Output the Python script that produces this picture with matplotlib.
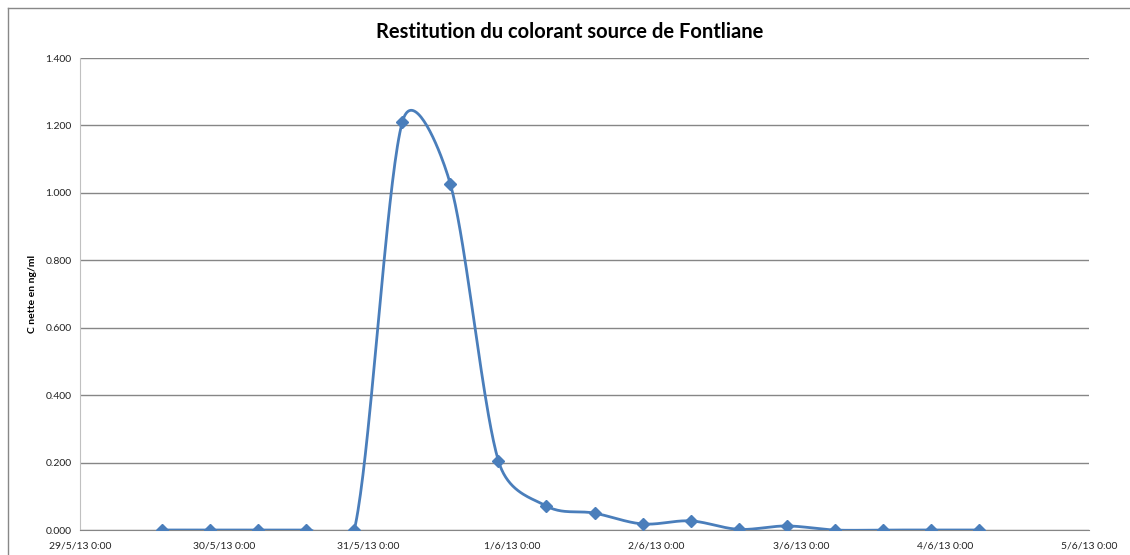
import datetime as dt
import matplotlib
matplotlib.use('Agg')
import matplotlib.pyplot as plt
import matplotlib.dates as mdates
import numpy as np

# sampling times: every 8 h from 29/5/13 13:40
t0 = dt.datetime(2013, 5, 29, 13, 40)
times = [t0 + dt.timedelta(hours=8 * i) for i in range(18)]
conc = [0.000, 0.000, 0.000, 0.000, 0.000, 1.210, 1.026, 0.205, 0.071,
        0.050, 0.018, 0.027, 0.002, 0.012, 0.000, 0.000, 0.000, 0.000]

title = 'Restitution du colorant source de Fontliane'
ylabel = 'C nette en ng/ml'
x_start = dt.datetime(2013, 5, 29)
x_end = dt.datetime(2013, 6, 5)
y_ticks = [0.0, 0.2, 0.4, 0.6, 0.8, 1.0, 1.2, 1.4]

plt.rcParams['font.family'] = ['Lato', 'DejaVu Sans']


def smooth(pts, n=40):
    # excel style smoothed line: bezier, control arms limited to half a segment
    p = np.vstack([pts[0], pts, pts[-1]])
    out = []
    t = np.linspace(0, 1, n)[:, None]
    for i in range(1, len(p) - 2):
        a, b, c, d = p[i - 1], p[i], p[i + 1], p[i + 2]
        d12 = np.hypot(*(c - b))
        d02 = np.hypot(*(c - a))
        d13 = np.hypot(*(d - b))
        f0 = 1 / 6 if d02 / 6 < d12 / 2 else (d12 / 2 / d02 if d02 > 0 else 0)
        f3 = 1 / 6 if d13 / 6 < d12 / 2 else (d12 / 2 / d13 if d13 > 0 else 0)
        c1 = b + (c - a) * f0
        c2 = c - (d - b) * f3
        seg = (1 - t) ** 3 * b + 3 * (1 - t) ** 2 * t * c1 + 3 * (1 - t) * t ** 2 * c2 + t ** 3 * c
        out.append(seg)
    return np.vstack(out)


fig = plt.figure(figsize=(11.3, 5.55), dpi=100)
ax = fig.add_axes([80 / 1130, 25 / 555, 1009 / 1130, 472 / 555])

ax.set_xlim(mdates.date2num(x_start), mdates.date2num(x_end))
ax.set_ylim(0, 1.4)

xnum = mdates.date2num(times)
disp = ax.transData.transform(np.column_stack([xnum, conc]))
curve = ax.transData.inverted().transform(smooth(disp))
blue = '#4a7ebb'
ax.plot(curve[:, 0], curve[:, 1], color=blue, lw=2, zorder=3)
ax.plot(xnum, conc, ls='none', marker='D', ms=6, color=blue, zorder=4)

ax.set_yticks(y_ticks)
ax.set_yticklabels(['%.3f' % v for v in y_ticks])
days = [x_start + dt.timedelta(days=i) for i in range(8)]
ax.set_xticks(mdates.date2num(days))
ax.set_xticklabels(['%d/%d/%s 0:00' % (d.day, d.month, d.strftime('%y')) for d in days])

ax.grid(axis='y', color='#868686', lw=1)
ax.set_axisbelow(True)
for s in ['top', 'right']:
    ax.spines[s].set_visible(False)
ax.spines['left'].set_color('#c0c0c0')
ax.spines['bottom'].set_color('#868686')
ax.tick_params(length=0, labelsize=7.5, colors='#222222', pad=6)
ax.tick_params(axis='x', pad=8)

ax.set_ylabel(ylabel, fontsize=7.5, fontweight='bold', labelpad=6)
fig.text(570 / 1130, 1 - 32 / 555, title, ha='center', va='center',
         fontsize=14.5, fontweight='bold')

# chart border
fig.add_artist(plt.Line2D([8 / 1130, 8 / 1130], [0, 1 - 8 / 555],
                          color='#888888', lw=1, transform=fig.transFigure))
fig.add_artist(plt.Line2D([8 / 1130, 1], [1 - 8 / 555, 1 - 8 / 555],
                          color='#888888', lw=1, transform=fig.transFigure))

fig.savefig('out.png', dpi=100)
